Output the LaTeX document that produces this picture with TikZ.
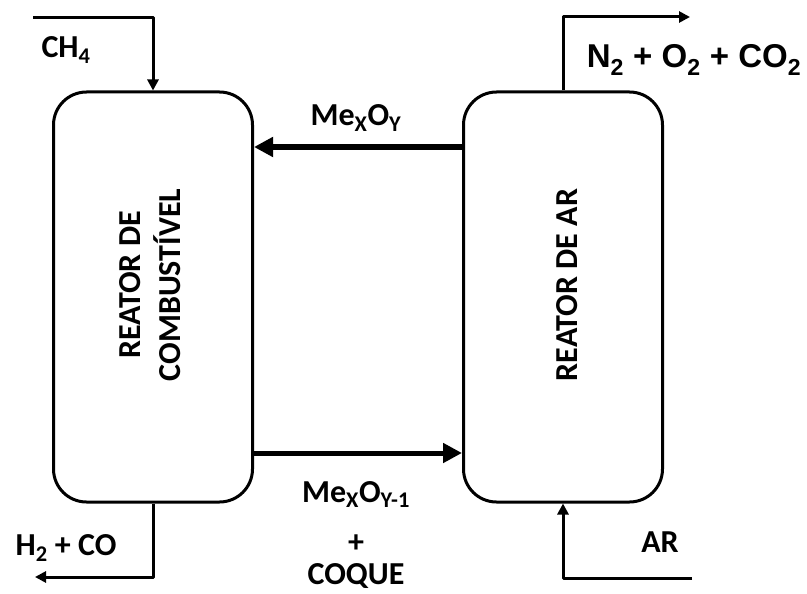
\documentclass[tikz,border=0pt]{standalone}
\usepackage{fontspec}
\setmainfont{Carlito}
\newfontfamily\arialfont{Liberation Sans}
\usetikzlibrary{arrows.meta}
\tikzset{
  reator/.style={draw, line width=3pt, rounded corners=33pt,
    minimum width=199pt, minimum height=410pt, inner sep=0pt},
  fluxo/.style={->, line width=3pt},
  solido/.style={-{Triangle[length=19pt,width=19pt]}, line width=5pt},
  rotulo/.style={font=\bfseries\fontsize{32}{40}\selectfont, inner sep=0pt, anchor=base}
}
\begin{document}
\begin{tikzpicture}[>={Triangle[length=11pt,width=11pt]}, line join=round, x=1pt, y=-1pt]
        \useasboundingbox (0,0) rectangle (807,594);
        % reatores
        \node[reator] (comb) at (153,297) {};
        \node[reator] (ar) at (563,297) {};
        \node[rotulo, anchor=center, rotate=90, align=center] (combtxt) at (150,285) {REATOR DE\\COMBUSTÍVEL};
        \node[rotulo, anchor=center, rotate=90] (artxt) at (567,285) {REATOR DE AR};
        % correntes de gas
        \coordinate (ch4in) at (33,18);
        \coordinate (gasout) at (690,17);
        \coordinate (synout) at (35,577);
        \coordinate (arin) at (692,578);
        \draw[fluxo] (ch4in) -| (comb.north);
        \draw[fluxo] (ar.north) |- (gasout);
        \draw[fluxo] (comb.south) |- (synout);
        \draw[fluxo] (arin) -| (ar.south);
        \node[rotulo] (ch4) at (66,58) {CH\textsubscript{4}};
        \node[rotulo, font=\arialfont\bfseries\fontsize{33}{40}\selectfont] (gases) at (694,68) {N\textsubscript{2} + O\textsubscript{2} + CO\textsubscript{2}};
        \node[rotulo] (syngas) at (66,555) {H\textsubscript{2} + CO};
        \node[rotulo] (artx) at (660,552) {AR};
        % circulacao de solidos
        \draw[solido] ([yshift=150pt]ar.west) -- ([yshift=150pt]comb.east);
        \draw[solido] ([yshift=-156pt]comb.east) -- ([yshift=-156pt]ar.west);
        \node[rotulo] (oxid) at (356,126) {Me\textsubscript{X}O\textsubscript{Y}};
        \node[rotulo] (red) at (356,502) {Me\textsubscript{X}O\textsubscript{Y-1}};
        \node[rotulo] (mais) at (356,552) {+};
        \node[rotulo] (coque) at (356,584) {COQUE};
    \end{tikzpicture}
\end{document}
